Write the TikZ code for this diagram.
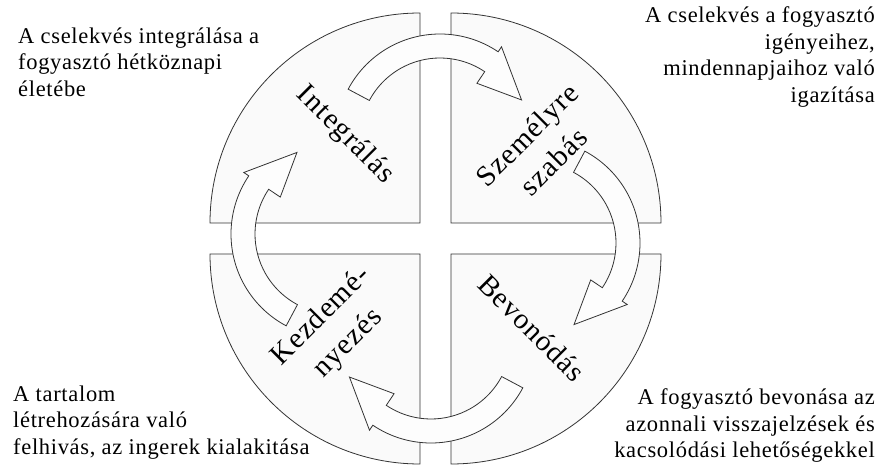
\documentclass[tikz,border=0pt]{standalone}
\usepackage{fontspec}
\setmainfont{Liberation Serif}
\usepackage{tikz}
\definecolor{QuadGray}{RGB}{250,250,250}
\definecolor{ArrowWhite}{RGB}{253,253,253}
\newcommand{\notefont}{\fontsize{22.5}{26.5}\selectfont\addfontfeatures{LetterSpace=3}}
\newcommand{\phasefont}{\fontsize{29}{38}\selectfont\addfontfeatures{LetterSpace=4}}

\begin{document}
\begin{tikzpicture}[x=1pt, y=1pt,
		quad/.style={draw=black!80, line width=0.8pt, fill=QuadGray},
		cyclearrow/.style={draw=black!80, line width=0.8pt, fill=ArrowWhite, line join=miter},
		phase/.style={font=\phasefont, align=center, inner sep=0pt},
		note/.style={font=\notefont, inner sep=0pt}]
		\useasboundingbox (-435.5,-226.5) rectangle (452.5,238.5);
		\foreach \a in {0,90,180,270}
			\draw[quad, rotate=\a] (15.5,15.5) -- (225.5,15.5) arc[start angle=0, end angle=90, radius=210] -- cycle;
		\foreach \a in {0,-90,-180,-270}
			\draw[cyclearrow, rotate=\a, shift={(4.5,100.5)}] (152:104) arc[start angle=152, end angle=56, radius=104] -- (56:110) -- (25:90) -- (56:66) -- (56:80) arc[start angle=56, end angle=152, radius=80] -- cycle;
		\node[phase, rotate=-45] (integr) at (-90.5,103.5) {Integrálás};
		\node[phase, rotate=45] (szemely) at (104.5,90.5) {Személyre\\szabás};
		\node[phase, rotate=45] (kezdem) at (-100.5,-91.5) {Kezdemé-\\nyezés};
		\node[phase, rotate=-45] (bevon) at (96.5,-89.5) {Bevonódás};
		\node[note, anchor=north west, align=left] (noteTL) at (-417.5,211) {A cselekvés integrálása a\\fogyasztó hétköznapi\\életébe};
		\node[note, anchor=north east, align=right] (noteTR) at (439.5,232) {A cselekvés a fogyasztó\\igényeihez,\\mindennapjaihoz való\\igazítása};
		\node[note, anchor=north west, align=left] (noteBL) at (-422.5,-147) {A tartalom\\létrehozására való\\felhivás, az ingerek kialakitása};
		\node[note, anchor=north east, align=right] (noteBR) at (439.5,-150) {A fogyasztó bevonása az\\azonnali visszajelzések és\\kacsolódási lehetőségekkel};
	\end{tikzpicture}
\end{document}
